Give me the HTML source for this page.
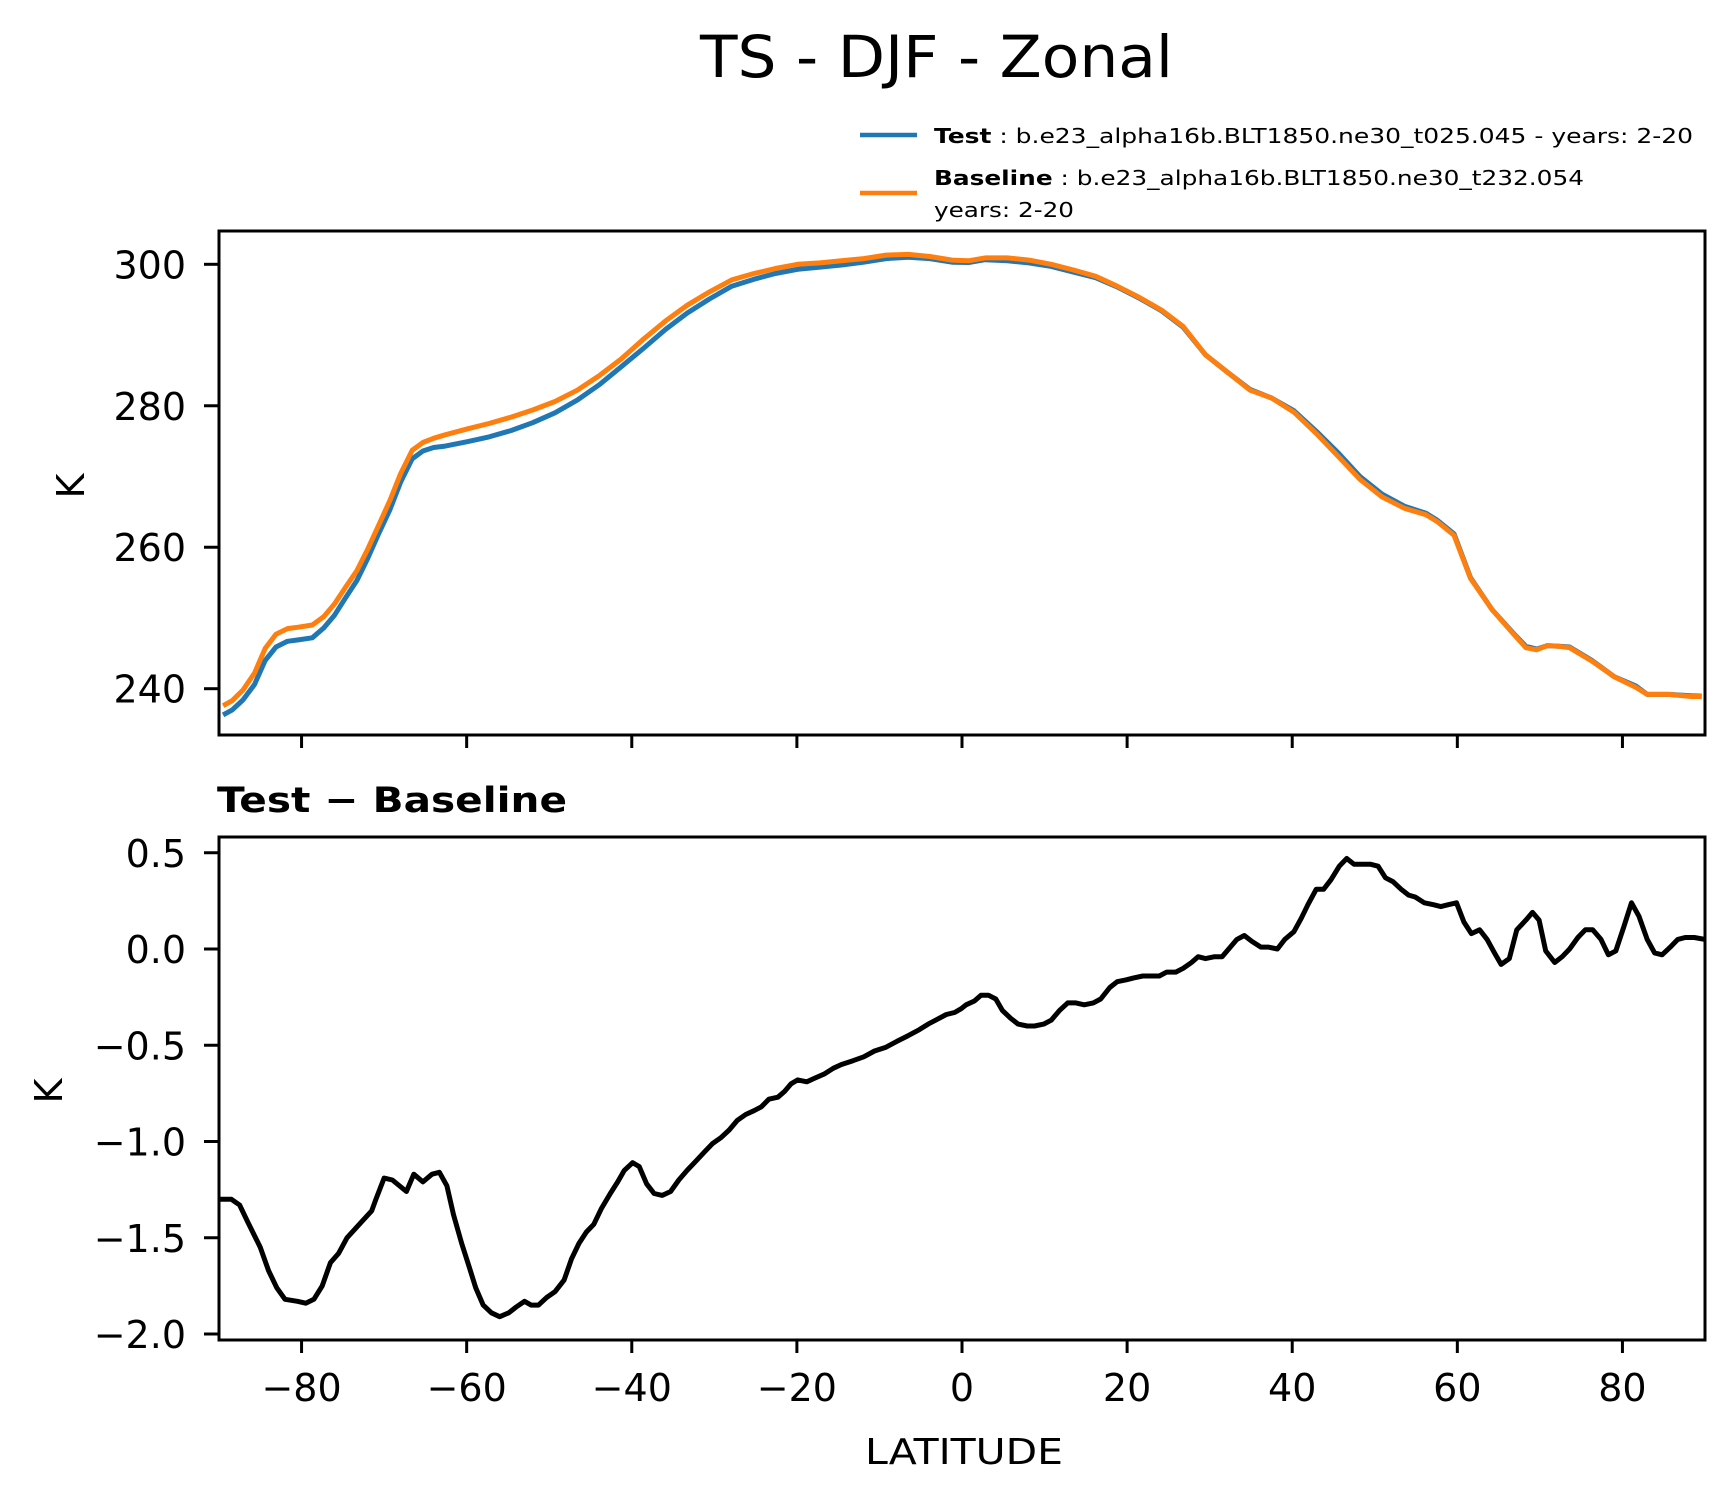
<!DOCTYPE html>
<html><head><meta charset="utf-8"><style>
html,body{margin:0;padding:0;background:#fff;}
svg{display:block;font-family:"DejaVu Sans","Liberation Sans",sans-serif;}
</style></head><body>
<svg id="fig" width="1734" height="1496" viewBox="0 0 1734 1496" xmlns="http://www.w3.org/2000/svg">
<defs>
<clipPath id="c1"><rect x="219" y="231" width="1486" height="504"/></clipPath>
<clipPath id="c2"><rect x="219" y="837" width="1486" height="503"/></clipPath>
</defs>
<text x="700" y="77" font-size="58" textLength="473" lengthAdjust="spacingAndGlyphs">TS - DJF - Zonal</text>
<g>
<line x1="860" y1="135" x2="917" y2="135" stroke="#1f77b4" stroke-width="4.5"/>
<text x="934" y="143" font-size="20" textLength="759" lengthAdjust="spacingAndGlyphs"><tspan font-weight="bold">Test</tspan> : b.e23_alpha16b.BLT1850.ne30_t025.045 - years: 2-20</text>
<line x1="860" y1="193" x2="917" y2="193" stroke="#ff7f0e" stroke-width="4.5"/>
<text x="934" y="185" font-size="20" textLength="650" lengthAdjust="spacingAndGlyphs"><tspan font-weight="bold">Baseline</tspan> : b.e23_alpha16b.BLT1850.ne30_t232.054</text>
<text x="934" y="217" font-size="20" textLength="140" lengthAdjust="spacingAndGlyphs">years: 2-20</text>
</g>
<text x="217" y="812" font-size="35" font-weight="bold" textLength="350" lengthAdjust="spacingAndGlyphs">Test − Baseline</text>
<text x="964" y="1464" font-size="36" text-anchor="middle" textLength="198" lengthAdjust="spacingAndGlyphs">LATITUDE</text>
<text transform="translate(84,486) rotate(-90)" font-size="38" text-anchor="middle">K</text>
<text transform="translate(62,1091) rotate(-90)" font-size="38" text-anchor="middle">K</text>
<g id="g1" clip-path="url(#c1)"></g>
<g id="g2" clip-path="url(#c2)"></g>
<g id="axes"></g>
</svg>
<script>
const baseLat=[-89.5,-88.4,-87.1,-85.7,-84.4,-83.1,-81.7,-80.4,-78.7,-77.3,-76.0,-74.7,-73.3,-72.0,-70.7,-69.3,-68.0,-66.6,-65.3,-64.0,-62.6,-60.0,-57.3,-54.6,-52.0,-49.3,-46.6,-43.9,-41.3,-38.6,-35.9,-33.3,-30.6,-27.9,-25.2,-22.6,-19.9,-17.2,-14.6,-11.9,-9.2,-6.5,-3.9,-1.2,0.8,2.8,5.5,8.1,10.8,13.5,16.2,18.8,21.5,24.2,26.8,29.5,32.2,34.9,37.5,40.2,42.9,45.6,48.2,50.9,53.6,56.2,57.6,59.6,61.6,64.2,66.9,68.3,69.6,70.9,72.3,73.6,76.3,79.0,81.6,83.0,85.6,88.3,89.6];
const baselineTS=[237.6,238.3,239.8,242.2,245.7,247.7,248.5,248.7,249.0,250.2,252.0,254.3,256.7,259.7,263.0,266.6,270.4,273.7,274.8,275.4,275.9,276.7,277.5,278.4,279.4,280.6,282.2,284.3,286.6,289.4,292.0,294.2,296.1,297.8,298.7,299.4,300.0,300.2,300.5,300.8,301.3,301.4,301.1,300.6,300.5,300.9,300.9,300.6,300.0,299.2,298.3,296.9,295.3,293.5,291.2,287.2,284.7,282.2,281.1,279.1,276.1,272.8,269.6,267.1,265.5,264.6,263.6,261.7,255.6,251.2,247.6,245.8,245.5,246.1,246.0,245.8,243.9,241.7,240.2,239.2,239.2,238.9,238.9];
const testTS=[236.3,237.0,238.4,240.6,244.0,245.9,246.7,246.9,247.2,248.6,250.4,252.8,255.3,258.4,261.8,265.3,269.2,272.5,273.6,274.1,274.3,274.9,275.6,276.5,277.6,279.0,280.8,283.0,285.5,288.1,290.8,293.1,295.1,296.9,297.9,298.7,299.3,299.6,299.9,300.3,300.8,301.0,300.8,300.3,300.25,300.65,300.5,300.2,299.7,298.9,298.1,296.8,295.2,293.4,291.1,287.2,284.7,282.3,281.1,279.3,276.4,273.3,270.0,267.5,265.8,264.8,263.8,261.9,255.7,251.2,247.7,246.0,245.6,246.1,246.0,245.9,244.0,241.7,240.4,239.2,239.2,239.0,238.95];
const diffLat=[-90,-88.5,-87.5,-86.5,-85,-84,-83,-82,-80.5,-79.5,-78.5,-77.5,-76.5,-75.5,-74.5,-73,-71.5,-71,-70,-69,-67.3,-66.4,-65.3,-64.2,-63.3,-62.4,-61.6,-60.6,-59.7,-58.9,-58,-57,-56,-54.9,-54,-53,-52.2,-51.3,-50.3,-49.3,-48.2,-47.3,-46.4,-45.5,-44.6,-43.7,-42.6,-41.7,-40.9,-39.9,-39.1,-38.2,-37.3,-36.3,-35.3,-34.3,-33.3,-32.2,-31.1,-30.2,-29.2,-28.2,-27.2,-26.2,-25.2,-24.3,-23.4,-22.3,-21.5,-20.7,-19.9,-18.8,-17.8,-16.7,-15.6,-14.6,-13.2,-11.9,-10.6,-9.2,-7.9,-6.5,-5.2,-4.1,-3.2,-1.9,-0.9,-0.1,0.5,1.5,2.3,3.2,4.1,4.9,5.9,6.8,7.9,8.8,9.9,10.8,11.8,12.8,13.8,14.8,15.9,16.8,17.9,18.8,19.9,20.8,21.9,22.8,23.9,24.8,25.9,26.8,27.8,28.6,29.5,30.6,31.5,32.5,33.3,34.2,35.1,36.2,37.1,38.2,39.1,40.2,41.1,41.9,42.9,43.8,44.7,45.7,46.6,47.5,48.5,49.5,50.4,51.3,52.2,53.2,54.1,54.9,56.0,57.1,58.0,58.9,59.9,60.8,61.7,62.7,63.6,64.5,65.3,66.3,67.2,68.3,69.1,69.9,70.7,71.8,72.7,73.6,74.6,75.5,76.4,77.4,78.3,79.2,80.2,81.1,82.0,83.0,83.9,84.8,85.8,86.7,87.6,88.7,90];
const diffTS=[-1.30,-1.30,-1.33,-1.42,-1.55,-1.67,-1.76,-1.82,-1.83,-1.84,-1.82,-1.75,-1.63,-1.58,-1.50,-1.43,-1.36,-1.30,-1.19,-1.20,-1.26,-1.17,-1.21,-1.17,-1.16,-1.23,-1.38,-1.53,-1.65,-1.76,-1.85,-1.89,-1.91,-1.89,-1.86,-1.83,-1.85,-1.85,-1.81,-1.78,-1.72,-1.61,-1.53,-1.47,-1.43,-1.35,-1.27,-1.21,-1.15,-1.11,-1.13,-1.22,-1.27,-1.28,-1.26,-1.20,-1.15,-1.10,-1.05,-1.01,-0.98,-0.94,-0.89,-0.86,-0.84,-0.82,-0.78,-0.77,-0.74,-0.70,-0.68,-0.69,-0.67,-0.65,-0.62,-0.60,-0.58,-0.56,-0.53,-0.51,-0.48,-0.45,-0.42,-0.39,-0.37,-0.34,-0.33,-0.31,-0.29,-0.27,-0.24,-0.24,-0.26,-0.32,-0.36,-0.39,-0.40,-0.40,-0.39,-0.37,-0.32,-0.28,-0.28,-0.29,-0.28,-0.26,-0.20,-0.17,-0.16,-0.15,-0.14,-0.14,-0.14,-0.12,-0.12,-0.10,-0.07,-0.04,-0.05,-0.04,-0.04,0.01,0.05,0.07,0.04,0.01,0.01,0.00,0.05,0.09,0.16,0.23,0.31,0.31,0.36,0.43,0.47,0.44,0.44,0.44,0.43,0.37,0.35,0.31,0.28,0.27,0.24,0.23,0.22,0.23,0.24,0.14,0.08,0.10,0.05,-0.02,-0.08,-0.05,0.10,0.15,0.19,0.15,-0.01,-0.07,-0.04,0.00,0.06,0.10,0.10,0.05,-0.03,-0.01,0.12,0.24,0.17,0.05,-0.02,-0.03,0.01,0.05,0.06,0.06,0.05,0.05];
const xTicks=[-80,-60,-40,-20,0,20,40,60,80];
const xTickLabels=["−80","−60","−40","−20","0","20","40","60","80"];
const topYTicks=[240,260,280,300];
const topYTickLabels=["240","260","280","300"];
const botYTicks=[-2.0,-1.5,-1.0,-0.5,0.0,0.5];
const botYTickLabels=["−2.0","−1.5","−1.0","−0.5","0.0","0.5"];

const NS="http://www.w3.org/2000/svg";
const X0=219,X1=1705;
function xs(lat){return X0+(lat+90)/180*(X1-X0);}
function ys1(v){return 264.3+(300-v)*(688.7-264.3)/60;}
function ys2(v){return 949+(0-v)*(1334-949)/2.0;}
function mk(tag,attrs,parent){const e=document.createElementNS(NS,tag);for(const k in attrs)e.setAttribute(k,attrs[k]);parent.appendChild(e);return e;}
function pathD(lats,vals,ys){return lats.map((l,i)=>(i?'L':'M')+xs(l).toFixed(1)+','+ys(vals[i]).toFixed(1)).join('');}
const g1=document.getElementById('g1'),g2=document.getElementById('g2'),ax=document.getElementById('axes');
let p=mk('path',{d:pathD(baseLat,testTS,ys1),fill:'none',stroke:'#1f77b4','stroke-width':5,'stroke-linejoin':'round'},g1);


p=mk('path',{d:pathD(baseLat,baselineTS,ys1),fill:'none',stroke:'#ff7f0e','stroke-width':5,'stroke-linejoin':'round'},g1);


p=mk('path',{d:pathD(diffLat,diffTS,ys2),fill:'none',stroke:'#000','stroke-width':5,'stroke-linejoin':'round'},g2);


let r=mk('rect',{x:X0,y:231,width:X1-X0,height:504,fill:'none',stroke:'#000','stroke-width':3},ax);


r=mk('rect',{x:X0,y:837,width:X1-X0,height:503,fill:'none',stroke:'#000','stroke-width':3},ax);


xTicks.forEach((t,i)=>{
  const x=xs(t);
  let l=mk('line',{x1:x,x2:x,y1:735,y2:748,stroke:'#000','stroke-width':3},ax);
  
  
  l=mk('line',{x1:x,x2:x,y1:1340,y2:1353,stroke:'#000','stroke-width':3},ax);
  
  
  const tx=mk('text',{x:x,y:1401,'font-size':38,'text-anchor':'middle'},ax);
  tx.textContent=xTickLabels[i];
  
  
});
topYTicks.forEach((t,i)=>{
  const y=ys1(t);
  const l=mk('line',{x1:204,x2:X0,y1:y,y2:y,stroke:'#000','stroke-width':3},ax);
  
  
  const tx=mk('text',{x:186,y:y+14,'font-size':38,'text-anchor':'end'},ax);
  tx.textContent=topYTickLabels[i];
  
  
});
botYTicks.forEach((t,i)=>{
  const y=ys2(t);
  const l=mk('line',{x1:204,x2:X0,y1:y,y2:y,stroke:'#000','stroke-width':3},ax);
  
  
  const tx=mk('text',{x:186,y:y+14,'font-size':38,'text-anchor':'end'},ax);
  tx.textContent=botYTickLabels[i];
  
  
});
</script>
</body></html>
